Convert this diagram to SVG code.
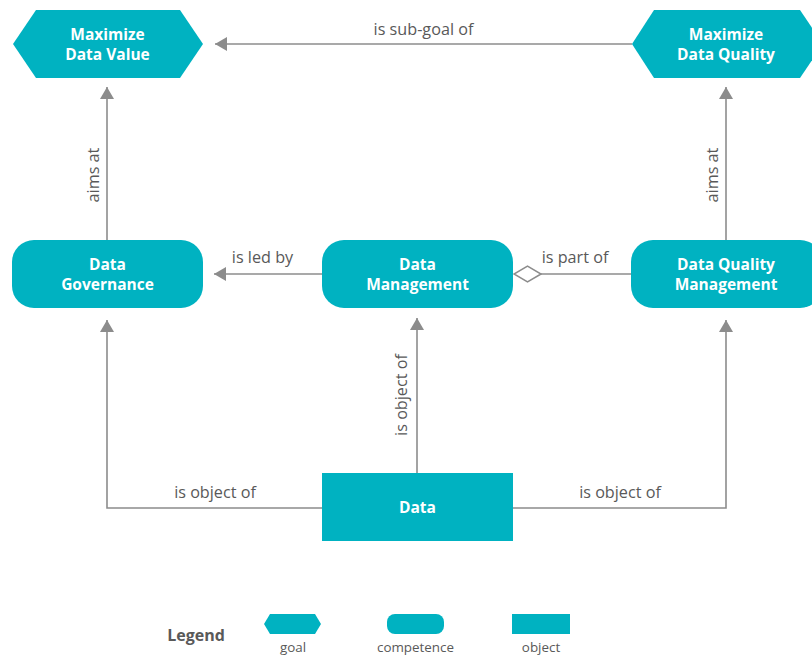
<svg xmlns="http://www.w3.org/2000/svg" width="812" height="655" viewBox="0 0 812 655">
<defs>
<marker id="arr" markerWidth="12" markerHeight="14" refX="12" refY="7" orient="auto" markerUnits="userSpaceOnUse">
<path d="M0,0 L12,7 L0,14 Z" fill="#8c8c8c"/>
</marker>
<marker id="dia" markerWidth="29" markerHeight="18" refX="28" refY="9" orient="auto" markerUnits="userSpaceOnUse">
<path d="M1,9 L14.5,1 L28,9 L14.5,17 Z" fill="#ffffff" stroke="#8c8c8c" stroke-width="1.5"/>
</marker>
<style>
.n{fill:#00b2c1}
.t{font-family:"Open Sans","Noto Sans",sans-serif;font-weight:bold;font-size:15.5px;fill:#ffffff;text-anchor:middle}
.l{font-family:"Open Sans","Noto Sans",sans-serif;font-size:16.2px;fill:#595959;text-anchor:middle}
.c{fill:none;stroke:#8c8c8c;stroke-width:1.6}
.lg{font-family:"Open Sans","Noto Sans",sans-serif;font-size:13.4px;fill:#595959;text-anchor:middle}
</style>
</defs>
<rect width="812" height="655" fill="#ffffff"/>
<g id="connectors">
<line class="c" x1="632" y1="44" x2="215" y2="44" marker-end="url(#arr)"/>
<text class="l" x="423.5" y="35">is sub-goal of</text>
<line class="c" x1="107" y1="240" x2="107" y2="87" marker-end="url(#arr)"/>
<text class="l" transform="translate(99,175) rotate(-90)">aims at</text>
<line class="c" x1="726" y1="240" x2="726" y2="87" marker-end="url(#arr)"/>
<text class="l" transform="translate(718,175) rotate(-90)">aims at</text>
<line class="c" x1="322" y1="274" x2="214" y2="274" marker-end="url(#arr)"/>
<text class="l" x="262.5" y="263">is led by</text>
<line class="c" x1="631" y1="274" x2="514" y2="274" marker-end="url(#dia)"/>
<text class="l" x="575" y="263">is part of</text>
<line class="c" x1="417" y1="473" x2="417" y2="318" marker-end="url(#arr)"/>
<text class="l" transform="translate(407,395) rotate(-90)">is object of</text>
<polyline class="c" points="322,508 107,508 107,320" marker-end="url(#arr)"/>
<text class="l" x="215" y="498">is object of</text>
<polyline class="c" points="513,508 726,508 726,320" marker-end="url(#arr)"/>
<text class="l" x="620" y="498">is object of</text>
</g>
<g id="maximize-data-value">
<polygon class="n" points="36,10 180,10 203,44 180,78 36,78 13,44"/>
<text class="t" x="107.5" y="39.5">Maximize</text>
<text class="t" x="107.5" y="59.5">Data Value</text>
</g>
<g id="maximize-data-quality">
<polygon class="n" points="654,10 800,10 823,44 800,78 654,78 632,44"/>
<text class="t" x="726" y="39.5">Maximize</text>
<text class="t" x="726" y="59.5">Data Quality</text>
</g>
<g id="data-governance">
<rect class="n" x="12" y="240" width="191" height="68" rx="22"/>
<text class="t" x="107.5" y="269.5">Data</text>
<text class="t" x="107.5" y="289.5">Governance</text>
</g>
<g id="data-management">
<rect class="n" x="322" y="240" width="191" height="68" rx="22"/>
<text class="t" x="417.5" y="269.5">Data</text>
<text class="t" x="417.5" y="289.5">Management</text>
</g>
<g id="data-quality-management">
<rect class="n" x="631" y="240" width="191" height="68" rx="22"/>
<text class="t" x="726" y="269.5">Data Quality</text>
<text class="t" x="726" y="289.5">Management</text>
</g>
<g id="data">
<rect class="n" x="322" y="473" width="191" height="68"/>
<text class="t" x="417.5" y="513">Data</text>
</g>
<g id="legend">
<text x="196" y="641" style="font-family:'Open Sans','Noto Sans',sans-serif;font-weight:bold;font-size:16px;fill:#595959;text-anchor:middle">Legend</text>
<polygon class="n" points="270,614 315,614 321,624 315,634 270,634 264,624"/>
<text class="lg" x="293" y="652">goal</text>
<rect class="n" x="387" y="614" width="57" height="20" rx="8"/>
<text class="lg" x="415.5" y="652">competence</text>
<rect class="n" x="512" y="614" width="58" height="20"/>
<text class="lg" x="541" y="652">object</text>
</g>
</svg>
